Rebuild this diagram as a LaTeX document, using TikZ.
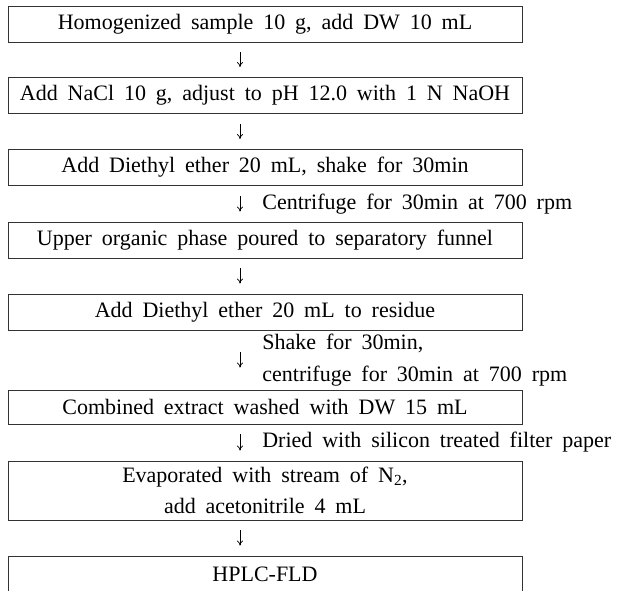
\documentclass[tikz,border=0pt]{standalone}
\usepackage{fontspec}
\setmainfont{Liberation Serif}[WordSpace=1.8]
\usetikzlibrary{arrows.meta}
\tikzset{
	stepbox/.style={draw=black!80, line width=0.8pt, minimum width=514pt, minimum height=36pt, inner sep=0pt, align=center},
	flowarrow/.style={-{To[length=5pt,width=6pt]}, line width=0.7pt, shorten <=#1, shorten >=#1},
	flowarrow/.default=10pt,
	note/.style={anchor=west, align=left, inner sep=0pt, xshift=22pt},
}
\begin{document}
\begin{tikzpicture}[x=1pt,y=-1pt,font=\fontsize{22}{31}\selectfont]
		\useasboundingbox (0,0) rectangle (628,590);
		\clip (0,0) rectangle (628,590);
		\pgfmathsetmacro{\cx}{265};
		\pgfmathsetmacro{\off}{-25};
		\node[stepbox] (hom) at (\cx,24) {Homogenized sample 10 g, add DW 10 mL};
		\node[stepbox] (nacl) at (\cx,95.5) {Add NaCl 10 g, adjust to pH 12.0 with 1 N NaOH};
		\node[stepbox] (ether) at (\cx,167.5) {Add Diethyl ether 20 mL, shake for 30min};
		\node[stepbox] (upper) at (\cx,240) {Upper organic phase poured to separatory funnel};
		\node[stepbox] (resid) at (\cx,312) {Add Diethyl ether 20 mL to residue};
		\node[stepbox,minimum height=34pt] (comb) at (\cx,407) {Combined extract washed with DW 15 mL};
		\node[stepbox,minimum height=59pt] (evap) at (\cx,490.5) {Evaporated with stream of N\textsubscript{2},\\add acetonitrile 4 mL};
		\node[stepbox] (hplc) at (\cx,574) {HPLC-FLD};
		\draw[flowarrow] ([xshift=\off pt]hom.south) -- ([xshift=\off pt]nacl.north);
		\draw[flowarrow] ([xshift=\off pt]nacl.south) -- ([xshift=\off pt]ether.north);
		\draw[flowarrow] ([xshift=\off pt]ether.south) -- ([xshift=\off pt]upper.north)
			node[note,midway] (cent) {Centrifuge for 30min at 700 rpm};
		\draw[flowarrow] ([xshift=\off pt]upper.south) -- ([xshift=\off pt]resid.north);
		\draw[flowarrow=22pt] ([xshift=\off pt]resid.south) -- ([xshift=\off pt]comb.north)
			node[note,midway,font=\fontsize{22}{32}\selectfont] (shake) {Shake for 30min,\\centrifuge for 30min at 700 rpm};
		\draw[flowarrow] ([xshift=\off pt]comb.south) -- ([xshift=\off pt]evap.north)
			node[note,midway] (dried) {Dried with silicon treated filter paper};
		\draw[flowarrow] ([xshift=\off pt]evap.south) -- ([xshift=\off pt]hplc.north);
	\end{tikzpicture}
\end{document}
